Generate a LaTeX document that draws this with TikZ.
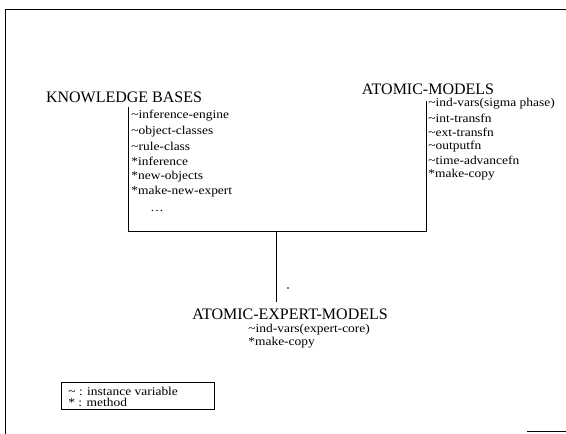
\documentclass[tikz,border=0pt]{standalone}
\usepackage{fontspec}
\setmainfont{Liberation Serif}
\newfontfamily\scanfont[FakeStretch=1.12]{Liberation Serif}
\usepackage{tikz}
\usetikzlibrary{positioning}

\tikzset{
  classname/.style={inner sep=0pt, font=\fontsize{16}{18}\selectfont},
  member/.style={anchor=west, inner sep=0pt, font=\scanfont\fontsize{12}{14}\selectfont},
  legendtext/.style={anchor=west, inner sep=0pt, font=\scanfont\fontsize{12}{12}\selectfont}
}

\begin{document}
\begin{tikzpicture}[x=1pt, y=-1pt, line width=0.8pt]
  \useasboundingbox (0,0) rectangle (566,434);
  % Page frame (scan edges)
  \draw (566,9) -- (5,9) -- (5,434);
  \draw (527,431) -- (566,431);

  % Class names
  \node[classname] (kb) at (124,97) {KNOWLEDGE BASES};
  \node[classname] (am) at (428,89) {ATOMIC-MODELS};
  \node[classname] (aem) at (290,314) {ATOMIC-EXPERT-MODELS};

  % Members
  \foreach \txt [count=\i from 0] in {{\textasciitilde}inference-engine,
      {\textasciitilde}object-classes, {\textasciitilde}rule-class,
      *inference, *new-objects, *make-new-expert}
    \node[member] (kb\i) at (131,116+\i*15.2) {\txt};
  \node[member] (kbdots) at (150,211) {\dots};
  \foreach \txt [count=\i from 0] in {{\textasciitilde}ind-vars(sigma phase),
      {\textasciitilde}int-transfn, {\textasciitilde}ext-transfn,
      {\textasciitilde}outputfn, {\textasciitilde}time-advancefn, *make-copy}
    \node[member] (am\i) at (428,104+\i*14.2) {\txt};
  \node[member] (aem0) at (248,330) {{\textasciitilde}ind-vars(expert-core)};
  \node[member] (aem1) at (248,343) {*make-copy};

  % Inheritance box and link
  \coordinate (boxbl) at (128,231);
  \coordinate (boxbr) at (426,231);
  \draw (kb0.north west -| boxbl) ++(0,-3) -- (boxbl) -- (boxbr) -- ([yshift=-3pt]am0.north west -| boxbr);
  \coordinate (join) at (276,231);
  \draw (join) -- ([yshift=6pt]join |- aem.north);
  \fill (288,288) circle (0.8);

  % Legend
  \node[legendtext] (lg0) at (68,391) {{\textasciitilde} : instance variable};
  \node[legendtext] (lg1) at (68,402.5) {* : method};
  \draw (61,382) rectangle (214,409);
\end{tikzpicture}
\end{document}
